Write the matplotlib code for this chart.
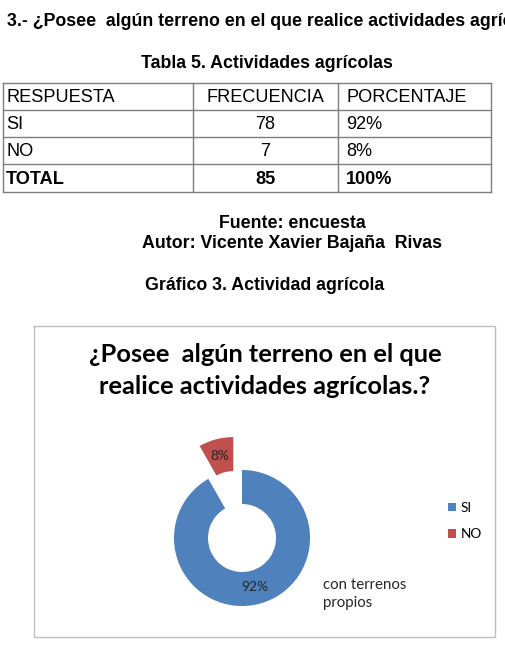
import matplotlib
matplotlib.use("Agg")
import matplotlib.pyplot as plt

W, H = 505, 663

# data
respuestas = ["SI", "NO"]
frecuencias = [78, 7]
encabezados = ["RESPUESTA", "FRECUENCIA", "PORCENTAJE"]
total = sum(frecuencias)
porcentajes = ["%d%%" % round(100.0 * f / total) for f in frecuencias]

pregunta = "3.- ¿Posee  algún terreno en el que realice actividades agrícolas?"
titulo_tabla = "Tabla 5. Actividades agrícolas"
fuente = "Fuente: encuesta"
autor = "Autor: Vicente Xavier Bajaña  Rivas"
titulo_grafico = "Gráfico 3. Actividad agrícola"
titulo_pie = ["¿Posee  algún terreno en el que", "realice actividades agrícolas.?"]
nota = "con terrenos\npropios"

doc_font = "Liberation Sans"
chart_font = "Lato"
azul = "#4F81BD"
rojo = "#C0504D"
fs_doc = 12.8
fs_tab = 13.1

fig = plt.figure(figsize=(W / 100, H / 100), dpi=100)
fig.patch.set_facecolor("white")

# page layer in pixel coords
pg = fig.add_axes([0, 0, 1, 1])
pg.set_xlim(0, W)
pg.set_ylim(H, 0)
pg.axis("off")

pg.text(7, 22, pregunta, fontsize=fs_doc, fontweight="bold", family=doc_font,
        va="center", ha="left", clip_on=False)
pg.text(267, 63, titulo_tabla, fontsize=fs_doc, fontweight="bold", family=doc_font,
        va="center", ha="center")

# table
col_x = [3, 193, 338, 491]
row_y = [83, 110, 137, 164, 192]
lc = "#7f7f7f"
for x in col_x:
    pg.plot([x, x], [row_y[0], row_y[-1]], color=lc, lw=1)
for y in row_y:
    pg.plot([col_x[0], col_x[-1]], [y, y], color=lc, lw=1)

filas = [encabezados]
for r, f, p in zip(respuestas, frecuencias, porcentajes):
    filas.append([r, str(f), p])
filas.append(["TOTAL", str(total), "100%"])

for i, fila in enumerate(filas):
    yc = (row_y[i] + row_y[i + 1]) / 2 + 1
    peso = "bold" if i == len(filas) - 1 else "normal"
    pg.text(col_x[0] + 3, yc, fila[0], fontsize=fs_tab, family=doc_font,
            fontweight=peso, va="center", ha="left")
    pg.text((col_x[1] + col_x[2]) / 2, yc, fila[1], fontsize=fs_tab, family=doc_font,
            fontweight=peso, va="center", ha="center")
    pg.text(col_x[2] + 8, yc, fila[2], fontsize=fs_tab, family=doc_font,
            fontweight=peso, va="center", ha="left")

pg.text(292, 223, fuente, fontsize=fs_doc, fontweight="bold", family=doc_font,
        va="center", ha="center")
pg.text(292, 243, autor, fontsize=fs_doc, fontweight="bold", family=doc_font,
        va="center", ha="center")
pg.text(265, 286, titulo_grafico, fontsize=fs_doc, fontweight="bold", family=doc_font,
        va="center", ha="center")

# chart frame
bx0, by0, bx1, by1 = 34, 326, 495, 637
pg.plot([bx0, bx1, bx1, bx0, bx0], [by0, by0, by1, by1, by0], color="#bfbfbf", lw=1)

for linea, y in zip(titulo_pie, [355, 387]):
    pg.text(265, y, linea, fontsize=18.3, fontweight="bold", family=chart_font,
            va="center", ha="center", color="black")
pg.text(323, 594, nota, fontsize=10.8, family=chart_font, va="center", ha="left",
        linespacing=1.3, color="#262626")

# donut
cx, cy, side = 242, 538, 200
ax = fig.add_axes([(cx - side / 2) / W, (H - cy - side / 2) / H, side / W, side / H])
wedges, _, autotexts = ax.pie(frecuencias, colors=[azul, rojo], startangle=90,
                              counterclock=False, explode=[0, 0.5],
                              autopct="%1.0f%%", pctdistance=0.75,
                              wedgeprops=dict(width=0.5, edgecolor="none"))
for t in autotexts:
    t.set_fontsize(9.8)
    t.set_family(chart_font)
    t.set_color("#262626")
ax.set_xlim(-1.47, 1.47)
ax.set_ylim(-1.47, 1.47)
ax.set_aspect("equal")
ax.axis("off")

fig.legend(wedges, respuestas, loc="center left",
           bbox_to_anchor=(448 / W, 1 - 521 / H), frameon=False,
           prop={"family": chart_font, "size": 9.8},
           handlelength=0.6, handleheight=0.6, handletextpad=0.35,
           labelspacing=1.05, borderaxespad=0, borderpad=0)

fig.savefig("out.png", dpi=100, facecolor="white")
